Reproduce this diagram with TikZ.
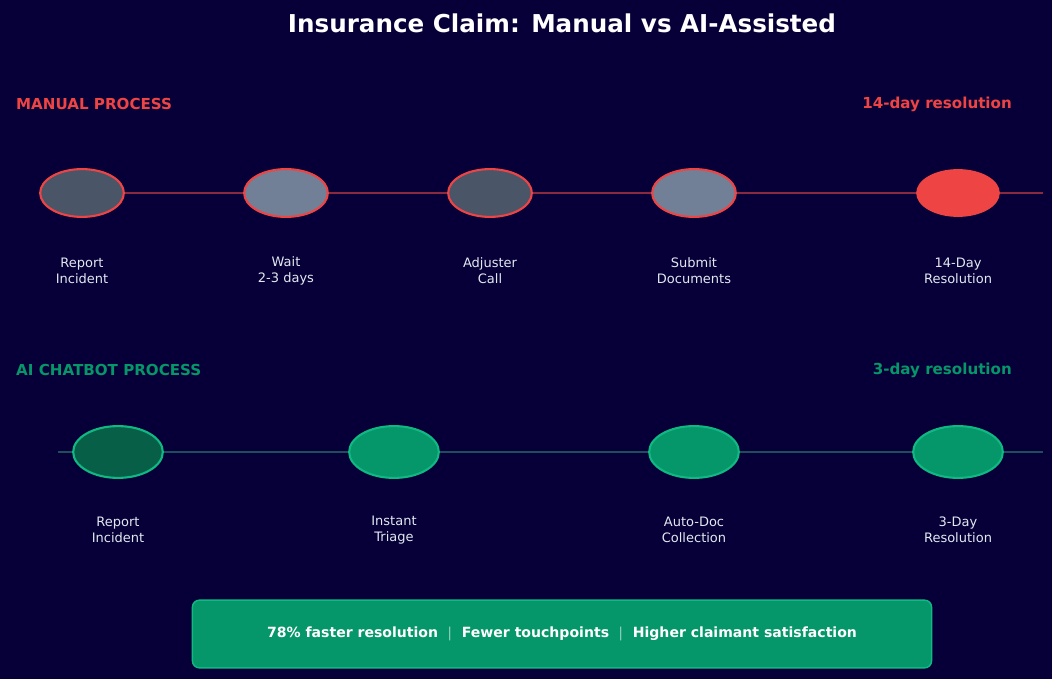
\documentclass[tikz,border=0pt]{standalone}
\usepackage{fontspec}
\setmainfont{DejaVu Sans}
\usetikzlibrary{shapes.geometric}
\definecolor{bgnavy}{HTML}{070038}
\definecolor{manred}{HTML}{EF4444}
\definecolor{manline}{HTML}{8B2A3E}
\definecolor{slatedark}{HTML}{4A5568}
\definecolor{slatelight}{HTML}{718096}
\definecolor{aigreen}{HTML}{059669}
\definecolor{aidark}{HTML}{065F46}
\definecolor{aiedge}{HTML}{10B981}
\definecolor{ailine}{HTML}{1E4D5C}
\definecolor{labelgrey}{HTML}{E2E8F0}
\tikzset{
  manstep/.style={ellipse, draw=manred, line width=1.2pt, minimum width=84\unitpx, minimum height=48\unitpx, inner sep=0pt},
  aistep/.style={ellipse, draw=aiedge, line width=1.2pt, fill=aigreen, minimum width=90\unitpx, minimum height=52\unitpx, inner sep=0pt},
  steplabel/.style={text=labelgrey, font=\fontsize{7.4}{9}\selectfont, align=center},
  header/.style={font=\bfseries\fontsize{8.6}{10}\selectfont}
}
\newcommand{\unitpx}{*0.567pt}
\begin{document}
\begin{tikzpicture}[x=0.02cm,y=-0.02cm]
  \fill[bgnavy] (0,0) rectangle (1052,679);
  \useasboundingbox (0,0) rectangle (1052,679);
  % title
  \node (title) at (562,23) {\textcolor{white}{\bfseries\fontsize{14}{16}\selectfont Insurance Claim: Manual vs AI-Assisted}};
  % manual process
  \node[header, text=manred, anchor=west] (manhead) at (10,104) {MANUAL PROCESS};
  \node[header, text=manred, anchor=east] (mandays) at (1018,104) {14-day resolution};
  \coordinate (manstart) at (82,193);
  \coordinate (manend) at (1043,193);
  \draw[manline, line width=1.5pt] (manstart) -- (manend);
  \node[manstep, fill=slatedark] (m1) at (82,193) {};
  \node[manstep, fill=slatelight] (m2) at (286,193) {};
  \node[manstep, fill=slatedark] (m3) at (490,193) {};
  \node[manstep, fill=slatelight] (m4) at (694,193) {};
  \node[manstep, fill=manred, draw=none] (m5) at (958,193) {};
  \node[steplabel] at (82,271) {Report\\Incident};
  \node[steplabel] at (286,271) {Wait\\2-3 days};
  \node[steplabel] at (490,271) {Adjuster\\Call};
  \node[steplabel] at (694,271) {Submit\\Documents};
  \node[steplabel] at (958,271) {14-Day\\Resolution};
  % ai chatbot process
  \node[header, text=aigreen, anchor=west] (aihead) at (10,370) {AI CHATBOT PROCESS};
  \node[header, text=aigreen, anchor=east] (aidays) at (1018,370) {3-day resolution};
  \coordinate (aistart) at (58,452);
  \coordinate (aiend) at (1043,452);
  \draw[ailine, line width=1.5pt] (aistart) -- (aiend);
  \node[aistep, fill=aidark] (a1) at (118,452) {};
  \node[aistep] (a2) at (394,452) {};
  \node[aistep] (a3) at (694,452) {};
  \node[aistep] (a4) at (958,452) {};
  \node[steplabel] at (118,530) {Report\\Incident};
  \node[steplabel] at (394,530) {Instant\\Triage};
  \node[steplabel] at (694,530) {Auto-Doc\\Collection};
  \node[steplabel] at (958,530) {3-Day\\Resolution};
  % summary banner
  \node[draw=aiedge, fill=aigreen, line width=0.8pt, rounded corners=4pt, minimum width=742\unitpx, minimum height=68\unitpx, text=white, font=\bfseries\fontsize{8}{10}\selectfont] (banner) at (562,634) {78\% faster resolution \ $|$ \ Fewer touchpoints \ $|$ \ Higher claimant satisfaction};
\end{tikzpicture}
\end{document}
